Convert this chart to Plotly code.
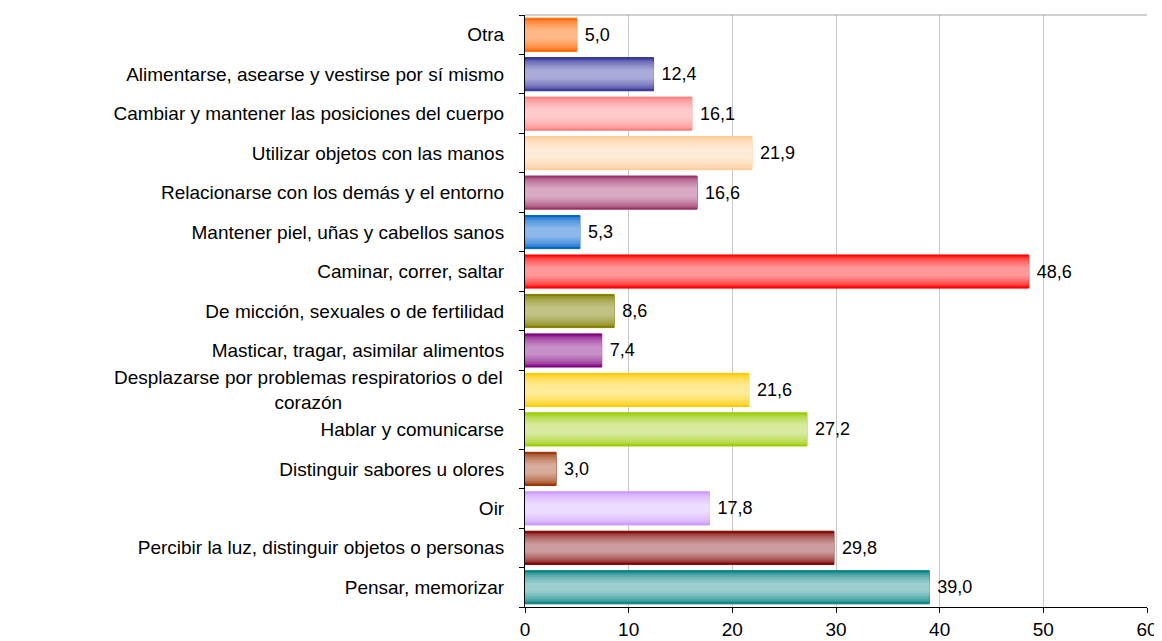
import plotly.graph_objects as go

# Data (bottom to top)
categories = [
    "Pensar, memorizar",
    "Percibir la luz, distinguir objetos o personas",
    "Oir",
    "Distinguir sabores u olores",
    "Hablar y comunicarse",
    "Desplazarse por problemas respiratorios o del corazón",
    "Masticar, tragar, asimilar alimentos",
    "De micción, sexuales o de fertilidad",
    "Caminar, correr, saltar",
    "Mantener piel, uñas y cabellos sanos",
    "Relacionarse con los demás y el entorno",
    "Utilizar objetos con las manos",
    "Cambiar y mantener las posiciones del cuerpo",
    "Alimentarse, asearse y vestirse por sí mismo",
    "Otra",
]
values = [39.0, 29.8, 17.8, 3.0, 27.2, 21.6, 7.4, 8.6, 48.6, 5.3, 16.6, 21.9, 16.1, 12.4, 5.0]

edge_colors = [
    "#008080", "#800000", "#CC99FF", "#993300", "#99CC00", "#FFCC00", "#800080",
    "#808000", "#FF0000", "#0066CC", "#993366", "#FFCC99", "#FF8080", "#333399", "#FF6600",
]
center_colors = [
    "#9CCECE", "#CC9C9C", "#ECDCFF", "#D8AC9C", "#D8EAA0", "#FFEA98", "#C890C8",
    "#C2C285", "#FF9898", "#8CB8EC", "#DAAAC4", "#FFEBD8", "#FFCACA", "#AAAAD8", "#FFB888",
]

tick_labels = list(categories)
tick_labels[5] = ""  # drawn as centered annotation

labels = ["\u00a0" + f"{v:.1f}".replace(".", ",") for v in values]

FONT = "Liberation Sans, Arial, sans-serif"


def hex_to_rgb(h):
    h = h.lstrip("#")
    return tuple(int(h[i:i + 2], 16) for i in (0, 2, 4))


def mix(c1, c2, t):
    a, b = hex_to_rgb(c1), hex_to_rgb(c2)
    return "rgb(%d,%d,%d)" % tuple(round(a[i] + (b[i] - a[i]) * t) for i in range(3))


fig = go.Figure()

N = 9
w_out, w_in = 0.84, 0.22
for i in range(N):
    t = i / (N - 1)
    w = w_out - (w_out - w_in) * t
    f = t ** 0.55
    cols = [mix(e, c, f) for e, c in zip(edge_colors, center_colors)]
    if i == 0:
        kw = dict(
            text=labels,
            textposition="outside",
            textfont=dict(family=FONT, size=18, color="#000000"),
            cliponaxis=False,
            marker=dict(color=cols, line=dict(color=edge_colors, width=1)),
        )
    else:
        kw = dict(marker=dict(color=cols, line=dict(width=0)), hoverinfo="skip")
    fig.add_trace(go.Bar(
        y=categories, x=values, orientation="h", width=w, showlegend=False, **kw
    ))

fig.add_annotation(
    x=0, xref="paper", y=categories[5], yref="y",
    text="Desplazarse por problemas respiratorios o del<br>corazón",
    showarrow=False, xanchor="right", align="center", xshift=-20,
    font=dict(family=FONT, size=19, color="#000000"),
)

# top border
fig.add_shape(type="line", xref="paper", yref="paper", x0=0, x1=1, y0=1, y1=1,
              line=dict(color="#A0A0A0", width=1))

fig.update_layout(
    width=1154, height=633,
    margin=dict(l=517, r=15, t=7, b=34),
    barmode="overlay",
    bargap=0.16,
    plot_bgcolor="white", paper_bgcolor="white",
    font=dict(family=FONT, size=19, color="#000000"),
    xaxis=dict(
        range=[0, 60], tickvals=[0, 10, 20, 30, 40, 50, 60],
        showgrid=True, gridcolor="#C8C8C8", gridwidth=1,
        showline=True, linecolor="#000000", linewidth=1,
        ticks="outside", ticklen=5, tickcolor="#000000",
        zeroline=False, fixedrange=True, automargin=False,
        tickfont=dict(size=19),
    ),
    yaxis=dict(
        categoryorder="array", categoryarray=categories,
        tickvals=categories, ticktext=tick_labels,
        showline=True, linecolor="#000000", linewidth=1,
        ticks="outside", ticklen=5, tickcolor="#000000",
        tickson="boundaries", showgrid=False, zeroline=False,
        ticklabelstandoff=16, automargin=False,
        tickfont=dict(size=19),
    ),
)

fig.write_html("out.html")
